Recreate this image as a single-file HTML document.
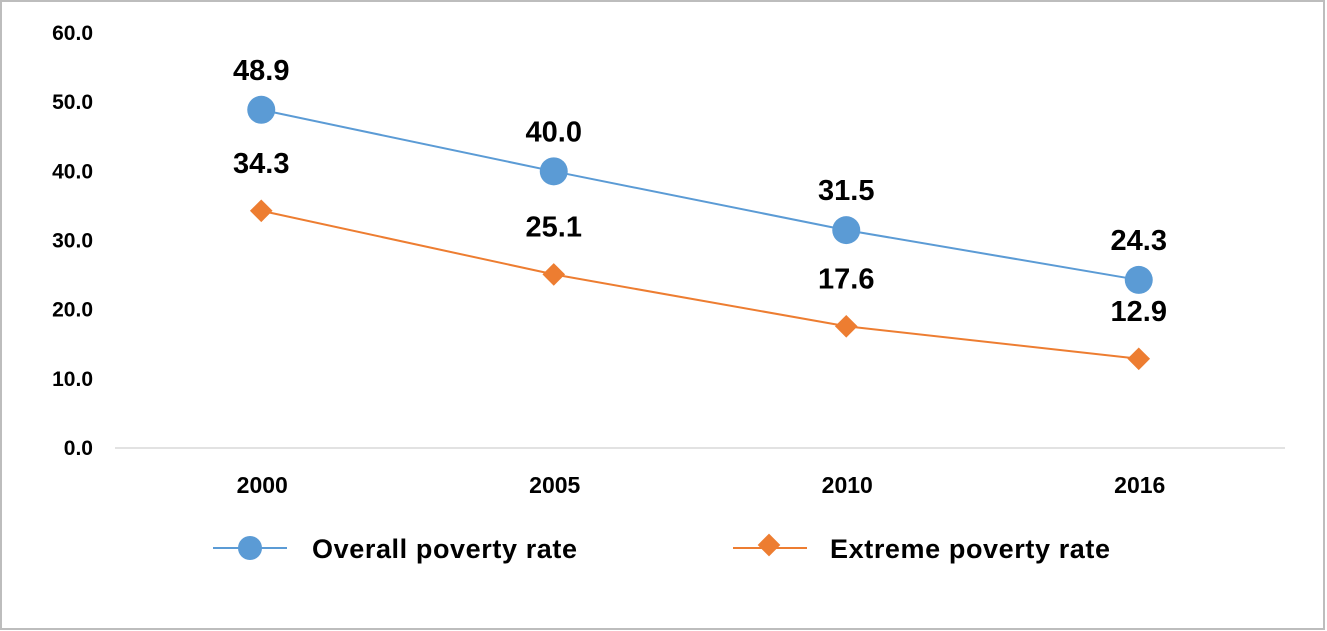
<!DOCTYPE html>
<html><head><meta charset="utf-8"><style>
body{margin:0;background:#fff;}
svg{display:block;font-family:"Liberation Sans",Arial,sans-serif;font-weight:bold;}
</style></head><body>
<svg width="1327" height="631" id="chart">
<rect x="1" y="1" width="1323" height="628" fill="#fff" stroke="#bdbdbd" stroke-width="2"/>
<g id="axes"></g><g id="series"></g>
<g>
<line x1="213" y1="548" x2="287" y2="548" stroke="#5b9bd5" stroke-width="2"/>
<circle cx="250" cy="548" r="12" fill="#5b9bd5"/>
<text x="312" y="558" font-size="27" letter-spacing="0.6" fill="#000">Overall poverty rate</text>
<line x1="733" y1="548" x2="807" y2="548" stroke="#ed7d31" stroke-width="2"/>
<rect x="761" y="537" width="16" height="16" fill="#ed7d31" transform="rotate(45 769 545)"/>
<text x="830" y="558" font-size="27" letter-spacing="0.6" fill="#000">Extreme poverty rate</text>
</g>
</svg>
<script>
const categories=["2000","2005","2010","2016"];
const overall=[48.9,40.0,31.5,24.3];
const extreme=[34.3,25.1,17.6,12.9];
const yTicks=[0,10,20,30,40,50,60];
const NS="http://www.w3.org/2000/svg";
const x0=115,x1=1285,yBase=448,yTop=33;
function y(v){return yBase-(v/60)*(yBase-yTop);}
function x(i){const w=(x1-x0)/categories.length;return x0+w*(i+0.5);}
function mk(tag,attrs,parent){const e=document.createElementNS(NS,tag);for(const k in attrs)e.setAttribute(k,attrs[k]);parent.appendChild(e);return e;}
const axes=document.getElementById('axes'),series=document.getElementById('series');
yTicks.forEach(t=>{const tx=mk('text',{x:93,y:y(t)+7,'text-anchor':'end','font-size':21,fill:'#000'},axes);


tx.textContent=t.toFixed(1);});
const ax=mk('line',{x1:x0,y1:yBase,x2:x1,y2:yBase,stroke:'#d9d9d9','stroke-width':1.5},axes);


categories.forEach((c,i)=>{const tx=mk('text',{x:x(i)+1,y:y(0)+45,'text-anchor':'middle','font-size':23,fill:'#000'},axes);


tx.textContent=c;});
function draw(vals,color,name,diamond,labOff){
const pl=mk('polyline',{points:vals.map((v,i)=>x(i)+','+y(v)).join(' '),fill:'none',stroke:color,'stroke-width':2},series);


vals.forEach((v,i)=>{let m;
if(diamond){m=mk('rect',{x:x(i)-8,y:y(v)-8,width:16,height:16,fill:color,transform:`rotate(45 ${x(i)} ${y(v)})`},series);}
else{m=mk('circle',{cx:x(i),cy:y(v),r:14,fill:color},series);}


const t=mk('text',{x:x(i),y:y(v)-labOff,'text-anchor':'middle','font-size':29,fill:'#000'},series);


t.textContent=v.toFixed(1);});}
draw(overall,'#5b9bd5','overall','',30);
draw(extreme,'#ed7d31','extreme',true,38);
</script>
</body></html>
